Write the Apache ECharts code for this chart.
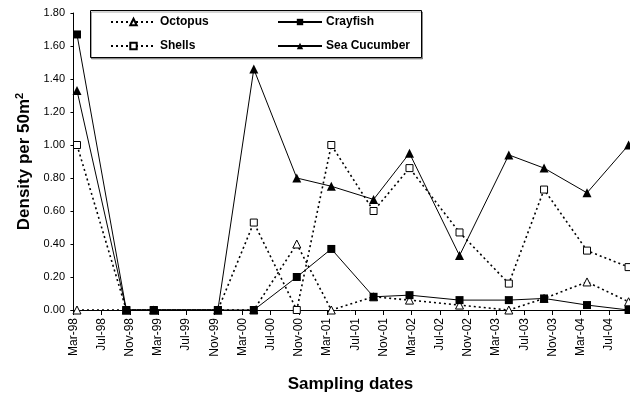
<!DOCTYPE html>
<html>
<head>
<meta charset="utf-8">
<script src="https://cdn.jsdelivr.net/npm/echarts@6/dist/echarts.min.js"></script>
<style>html,body{margin:0;padding:0;background:#fff}#c{width:630px;height:398px}</style>
</head>
<body>
<div id="c"></div>
<script>
// Tick labels every 4 months starting Mar-98 (month offset 0)
var tickLabels = ['Mar-98','Jul-98','Nov-98','Mar-99','Jul-99','Nov-99','Mar-00','Jul-00','Nov-00','Mar-01','Jul-01','Nov-01','Mar-02','Jul-02','Nov-02','Mar-03','Jul-03','Nov-03','Mar-04','Jul-04'];
// Sampling dates as months since 1 Mar 1998
var sampleMonths = [0.5, 7.5, 11.4, 20.5, 25.6, 31.7, 36.6, 42.6, 47.7, 54.8, 61.8, 66.8, 72.9, 78.8];
var octopus     = [0, 0, 0, 0, 0, 0.40, 0, 0.08, 0.06, 0.03, 0, 0.07, 0.17, 0.05];
var shells      = [1.00, 0, 0, 0, 0.53, 0, 1.00, 0.60, 0.86, 0.47, 0.16, 0.73, 0.36, 0.26];
var crayfish    = [1.67, 0, 0, 0, 0, 0.20, 0.37, 0.08, 0.09, 0.06, 0.06, 0.07, 0.03, 0.00];
var seaCucumber = [1.33, 0, 0, 0, 1.46, 0.80, 0.75, 0.67, 0.95, 0.33, 0.94, 0.86, 0.71, 1.00];

function pairs(vals){ return vals.map(function(v,i){ return [sampleMonths[i], v]; }); }
var tickVals = tickLabels.map(function(_, i){ return i*4; });
var F = '"Liberation Sans", Arial, sans-serif';

var chart = echarts.init(document.getElementById('c'), null, {renderer:'canvas'});
var dotted = [2,3];
var legendText = {fontFamily:F, fontWeight:'bold', fontSize:12, color:'#000', padding:[0,0,0,-1]};
chart.setOption({
  animation:false,
  backgroundColor:'#fff',
  textStyle:{fontFamily:F, color:'#000'},
  grid:{left:71, right:0, top:13, bottom:81.3},
  graphic:[{type:'rect', shape:{x:90.5, y:10.5, width:331, height:47}, style:{fill:'#fff', stroke:'#000', lineWidth:1, shadowColor:'rgba(0,0,0,0.35)', shadowOffsetX:1, shadowOffsetY:1.5}, z:1}],
  legend:[
    {left:105, top:11, orient:'vertical', itemWidth:45, itemHeight:8, itemGap:12, data:['Octopus','Shells'], textStyle:legendText, z:5},
    {left:272, top:11, orient:'vertical', itemWidth:44, itemHeight:8, itemGap:12, data:['Crayfish','Sea Cucumber'], textStyle:legendText, lineStyle:{width:2}, z:5}
  ],
  xAxis:{
    type:'value', min:-0.35, max:79,
    name:'Sampling dates', nameLocation:'middle', nameGap:66,
    nameTextStyle:{fontFamily:F, fontWeight:'bold', fontSize:17, color:'#000'},
    axisLine:{show:true, onZero:false, lineStyle:{color:'#000', width:1}},
    axisTick:{show:true, length:5, customValues:tickVals, lineStyle:{color:'#000'}},
    axisLabel:{rotate:90, margin:8, fontSize:12, color:'#000', fontFamily:F, customValues:tickVals,
      formatter:function(v){ var i=Math.round(v/4); return tickLabels[i]||''; }},
    splitLine:{show:false}
  },
  yAxis:{
    type:'value', min:0, max:1.8, interval:0.2,
    name:'Density per 50m{sup|2}', nameLocation:'middle', nameGap:34,
    nameTextStyle:{fontFamily:F, fontWeight:'bold', fontSize:17, color:'#000',
      rich:{sup:{fontFamily:F, fontWeight:'bold', fontSize:11, color:'#000', verticalAlign:'top', padding:[0,0,8,0]}}},
    axisLine:{show:true, lineStyle:{color:'#000', width:1}},
    axisTick:{show:true, length:3, lineStyle:{color:'#000'}},
    axisLabel:{fontSize:11, color:'#000', fontFamily:F, margin:6, formatter:function(v){return v.toFixed(2);}},
    splitLine:{show:false}
  },
  series:[
    {name:'Octopus', type:'line', data:pairs(octopus), symbol:'triangle', symbolSize:8,
      itemStyle:{color:'#fff', borderColor:'#000', borderWidth:1},
      lineStyle:{color:'#000', width:1.6, type:dotted}, z:2},
    {name:'Shells', type:'line', data:pairs(shells), symbol:'rect', symbolSize:7,
      itemStyle:{color:'#fff', borderColor:'#000', borderWidth:1},
      lineStyle:{color:'#000', width:1.6, type:dotted}, z:3},
    {name:'Crayfish', type:'line', data:pairs(crayfish), symbol:'rect', symbolSize:8,
      itemStyle:{color:'#000', borderColor:'#000', borderWidth:0},
      lineStyle:{color:'#000', width:1, type:'solid'}, z:4},
    {name:'Sea Cucumber', type:'line', data:pairs(seaCucumber), symbol:'triangle', symbolSize:9,
      itemStyle:{color:'#000', borderColor:'#000', borderWidth:0},
      lineStyle:{color:'#000', width:1, type:'solid'}, z:5}
  ]
});
</script>
</body>
</html>
